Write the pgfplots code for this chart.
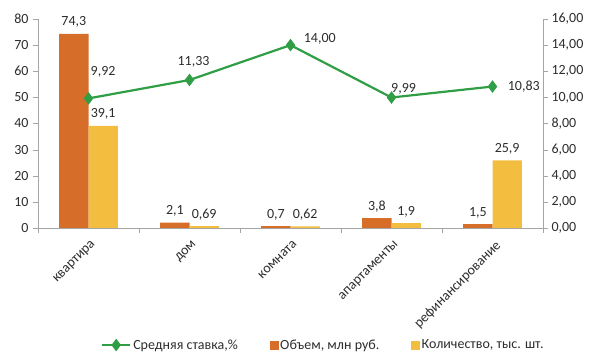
\documentclass[border=0pt]{standalone}
\usepackage{fontspec}
\setmainfont{Carlito}
\usepackage{pgfplots}
\pgfplotsset{compat=1.18}
\definecolor{cOr}{RGB}{214,110,42}
\definecolor{cYe}{RGB}{243,190,64}
\definecolor{cGr}{RGB}{47,158,68}
\definecolor{cAx}{RGB}{165,165,165}
\definecolor{cTx}{RGB}{45,45,45}

\pgfplotstableread{
x y lbl
0 74.3 74,3
1 2.1 2,1
2 0.7 0,7
3 3.8 3,8
4 1.5 1,5
}\tabvolume
\pgfplotstableread{
x y lbl
0 39.1 39,1
1 0.69 0,69
2 0.62 0,62
3 1.9 1,9
4 25.9 25,9
}\tabcnt
\pgfplotstableread{
x y
0 9.92
1 11.33
2 14.00
3 9.99
4 10.83
}\tabrate

\begin{document}
\begin{tikzpicture}[font=\fontsize{14}{16}\selectfont, text=cTx]
\pgfplotsset{
 base/.style={scale only axis, width=505pt, height=209pt, xmin=-0.5, xmax=4.5, ymin=0,
  axis line style={cAx}, tick align=outside, major tick length=5pt, minor tick length=5pt,
  ticklabel style={text=cTx, font=\fontsize{14}{16}\selectfont},
  /pgf/number format/assume math mode=true, clip=false}
}
\begin{axis}[base, ymax=80, ytick={0,10,...,80}, axis y line*=left, axis x line*=bottom,
  y tick style={cAx}, 
  xtick={0,...,4}, xticklabels={квартира,дом,комната,апартаменты,рефинансирование},
  major x tick style={draw=none}, minor xtick={-0.5,0.5,...,4.5}, minor x tick style={cAx},
  xticklabel style={rotate=45, anchor=north east, inner sep=2pt, xshift=-1pt, yshift=-4pt},
  yticklabel style={xshift=-1pt},
  nodes near coords, point meta=explicit symbolic,
  every node near coord/.append style={text=cTx, font=\fontsize{14}{16}\selectfont, inner sep=2pt, yshift=4pt},
  ybar=0pt, bar width=0.29]
\addplot[fill=cOr, draw=none, bar shift=-0.145] table[x=x, y=y, meta=lbl]{\tabvolume};
\addplot[fill=cYe, draw=none, bar shift=0.145] table[x=x, y=y, meta=lbl]{\tabcnt};
\end{axis}
\begin{axis}[base, ymax=16, ytick={0,2,...,16}, axis y line*=right, axis x line=none,
  y tick style={cAx},
  yticklabel style={/pgf/number format/.cd, fixed, fixed zerofill, precision=2, use comma},
  legend style={draw=none, fill=none, at={(rel axis cs:0.565,-0.56)}, anchor=center,
    font=\fontsize{14}{16}\selectfont, text=cTx,
    /tikz/every even column/.append style={column sep=30pt}},
  legend columns=3,
  legend image code/.code={\draw[#1, mark repeat=2, mark phase=2] plot coordinates {(0pt,0pt) (14pt,0pt) (28pt,0pt)};}]
\addplot[cGr, line width=2.2pt, mark=diamond*, mark size=4.5pt, mark options={fill=cGr}] table[x=x, y=y]{\tabrate};
\addlegendentry{Средняя ставка,\%}
\addlegendimage{legend image code/.code={\fill[cOr] (10pt,-4pt) rectangle (18pt,4pt);}}
\addlegendentry{Объем, млн руб.}
\addlegendimage{legend image code/.code={\fill[cYe] (10pt,-4pt) rectangle (18pt,4pt);}}
\addlegendentry{Количество, тыс. шт.}
\node[anchor=south west, inner sep=2pt] at (axis cs:0.0,11.4) {9,92};
\node[anchor=south, inner sep=2pt] at (axis cs:1.04,12.1) {11,33};
\node[anchor=south west, inner sep=2pt] at (axis cs:2.11,13.9) {14,00};
\node[anchor=south, inner sep=2pt] at (axis cs:3.12,10.1) {9,99};
\node[anchor=west, inner sep=2pt] at (axis cs:4.13,10.83) {10,83};
\end{axis}
\pgfresetboundingbox
\path (-38pt,-135pt) rectangle (562pt,228pt);
\end{tikzpicture}
\end{document}
